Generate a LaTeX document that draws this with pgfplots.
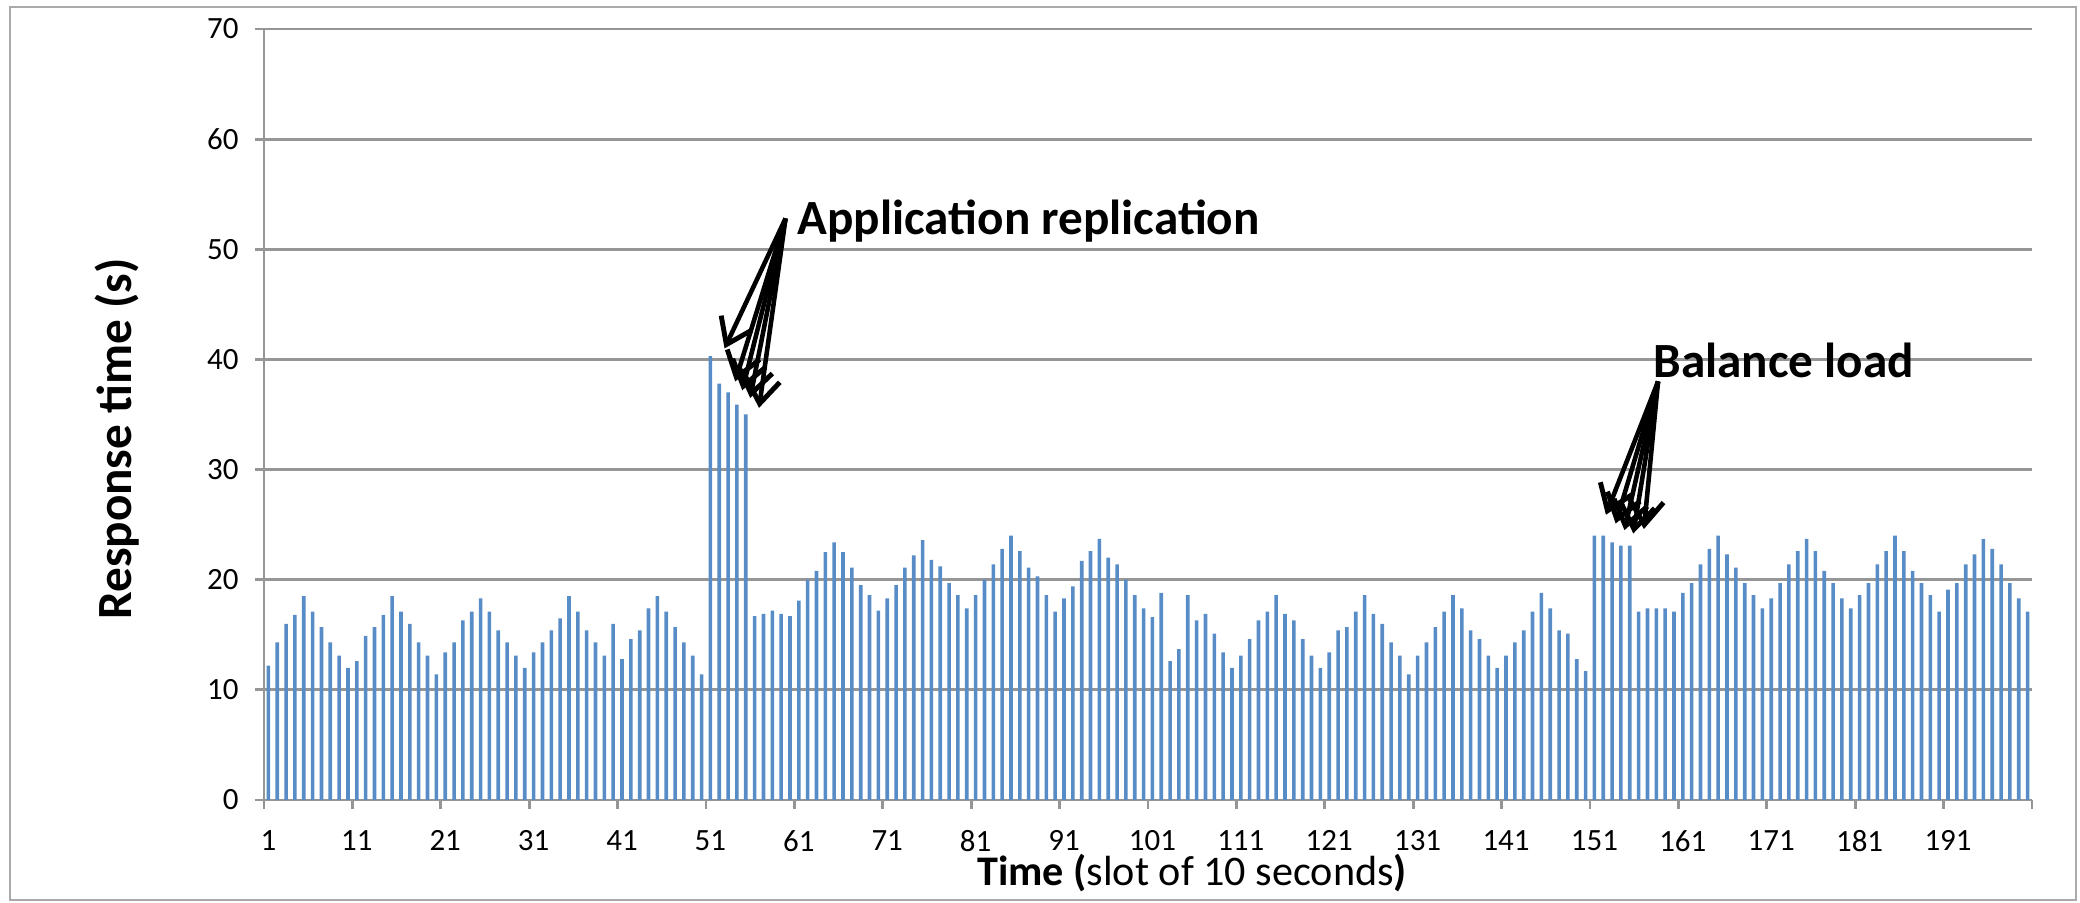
\documentclass[border=0pt]{standalone}
\usepackage{pgfplots}
\pgfplotsset{compat=1.18}
\usepackage{pgfplotstable}
\usepackage{fontspec}
\setmainfont{Carlito}
\usetikzlibrary{arrows.meta}
\definecolor{barblue}{RGB}{88,140,199}
\definecolor{gridgray}{RGB}{150,150,150}
\definecolor{framegray}{RGB}{170,170,170}

\pgfplotstableread{
t v
1 12.2
2 14.3
3 16.0
4 16.8
5 18.5
6 17.1
7 15.7
8 14.3
9 13.1
10 12.0
11 12.6
12 14.9
13 15.7
14 16.8
15 18.5
16 17.1
17 16.0
18 14.3
19 13.1
20 11.4
21 13.4
22 14.3
23 16.3
24 17.1
25 18.3
26 17.1
27 15.4
28 14.3
29 13.1
30 12.0
31 13.4
32 14.3
33 15.4
34 16.5
35 18.5
36 17.1
37 15.4
38 14.3
39 13.1
40 16.0
41 12.8
42 14.6
43 15.4
44 17.4
45 18.5
46 17.1
47 15.7
48 14.3
49 13.1
50 11.4
51 40.3
52 37.8
53 37.0
54 35.9
55 35.0
56 16.7
57 16.9
58 17.2
59 16.9
60 16.7
61 18.1
62 20.0
63 20.8
64 22.5
65 23.4
66 22.5
67 21.1
68 19.5
69 18.6
70 17.2
71 18.3
72 19.5
73 21.1
74 22.2
75 23.6
76 21.8
77 21.2
78 19.7
79 18.6
80 17.4
81 18.6
82 20.0
83 21.4
84 22.8
85 24.0
86 22.6
87 21.1
88 20.3
89 18.6
90 17.1
91 18.3
92 19.4
93 21.7
94 22.6
95 23.7
96 22.0
97 21.4
98 20.0
99 18.6
100 17.4
101 16.6
102 18.8
103 12.6
104 13.7
105 18.6
106 16.3
107 16.9
108 15.1
109 13.4
110 12.0
111 13.1
112 14.6
113 16.3
114 17.1
115 18.6
116 16.9
117 16.3
118 14.6
119 13.1
120 12.0
121 13.4
122 15.4
123 15.7
124 17.1
125 18.6
126 16.9
127 16.0
128 14.3
129 13.1
130 11.4
131 13.1
132 14.3
133 15.7
134 17.1
135 18.6
136 17.4
137 15.4
138 14.6
139 13.1
140 12.0
141 13.1
142 14.3
143 15.4
144 17.1
145 18.8
146 17.4
147 15.4
148 15.1
149 12.8
150 11.7
151 24.0
152 24.0
153 23.4
154 23.1
155 23.1
156 17.1
157 17.4
158 17.4
159 17.4
160 17.1
161 18.8
162 19.7
163 21.4
164 22.8
165 24.0
166 22.3
167 21.1
168 19.7
169 18.6
170 17.4
171 18.3
172 19.7
173 21.4
174 22.6
175 23.7
176 22.6
177 20.8
178 19.7
179 18.3
180 17.4
181 18.6
182 19.7
183 21.4
184 22.6
185 24.0
186 22.6
187 20.8
188 19.7
189 18.6
190 17.1
191 19.1
192 19.7
193 21.4
194 22.3
195 23.7
196 22.8
197 21.4
198 19.7
199 18.3
200 17.1
}\resp

\tikzset{annarrow/.style={line width=1.3pt, -{Straight Barb[length=2.4mm,width=3.4mm,line width=1.4pt]}}}

\begin{document}
\begin{tikzpicture}[x=1cm,y=1cm]
\path[use as bounding box] (0,0) rectangle (20.8,9.03);
\begin{scope}
\clip (0,0) rectangle (20.8,9.03);
\begin{axis}[
  at={(2.64cm,1.03cm)}, anchor=south west,
  scale only axis,
  width=17.68cm, height=7.71cm,
  xmin=0.5, xmax=200.5,
  ymin=0, ymax=70,
  axis x line*=bottom, axis y line*=left,
  axis line style={gridgray, line width=0.8pt, -},
  ytick={0,10,...,70},
  ymajorgrids,
  major grid style={gridgray, line width=0.8pt},
  xtick={1,11,...,191},
  minor xtick={0.5,10.5,...,200.5},
  major tick length=0.9mm,
  minor tick length=0.9mm,
  tick align=outside,
  tick style={gridgray, line width=0.8pt},
  xtick style={draw=none},
  minor x tick style={draw=gridgray, line width=0.8pt},
  /pgf/number format/assume math mode=true,
  tick label style={font=\fontsize{8.8}{10}\selectfont, text=black},
  yticklabel style={xshift=-0.4mm},
  xticklabel style={inner sep=0pt, yshift=-2.1mm},
  ylabel={\textbf{Response time (s)}},
  ylabel style={font=\fontsize{14}{16}\selectfont, at={(axis description cs:-0.0831,0.468)}, anchor=center},
  xlabel={\textbf{Time (}slot of 10 seconds\textbf{)}},
  xlabel style={font=\fontsize{12}{14}\selectfont, inner sep=0pt, at={(axis description cs:0.525,-0.1115)}, anchor=base},
  clip=false,
]
\addplot[ybar, bar width=0.36mm, fill=barblue, draw=none] table[x=t, y=v] {\resp};

% annotations
\node[anchor=west, font=\fontsize{14}{16}\selectfont\bfseries, inner sep=0pt] at (axis cs:60.8,52.6) {Application replication};
\draw[annarrow] (axis cs:59.5,52.8) -- (axis cs:52.6,41.0);
\draw[annarrow] (axis cs:59.5,52.8) -- (axis cs:53.8,38.0);
\draw[annarrow] (axis cs:59.5,52.8) -- (axis cs:54.6,37.2);
\draw[annarrow] (axis cs:59.5,52.8) -- (axis cs:55.5,36.5);
\draw[annarrow] (axis cs:59.5,52.8) -- (axis cs:56.5,35.6);
\node[anchor=west, font=\fontsize{14}{16}\selectfont\bfseries, inner sep=0pt] at (axis cs:157.6,39.9) {Balance load};
\draw[annarrow] (axis cs:158.2,38.0) -- (axis cs:152.3,25.9);
\draw[annarrow] (axis cs:158.2,38.0) -- (axis cs:153.4,25.1);
\draw[annarrow] (axis cs:158.2,38.0) -- (axis cs:154.4,24.5);
\draw[annarrow] (axis cs:158.2,38.0) -- (axis cs:155.4,24.2);
\draw[annarrow] (axis cs:158.2,38.0) -- (axis cs:156.6,24.6);
\end{axis}
\end{scope}
\draw[framegray, line width=0.8pt] (0.10,0.03) rectangle (20.76,8.96);
\end{tikzpicture}
\end{document}
